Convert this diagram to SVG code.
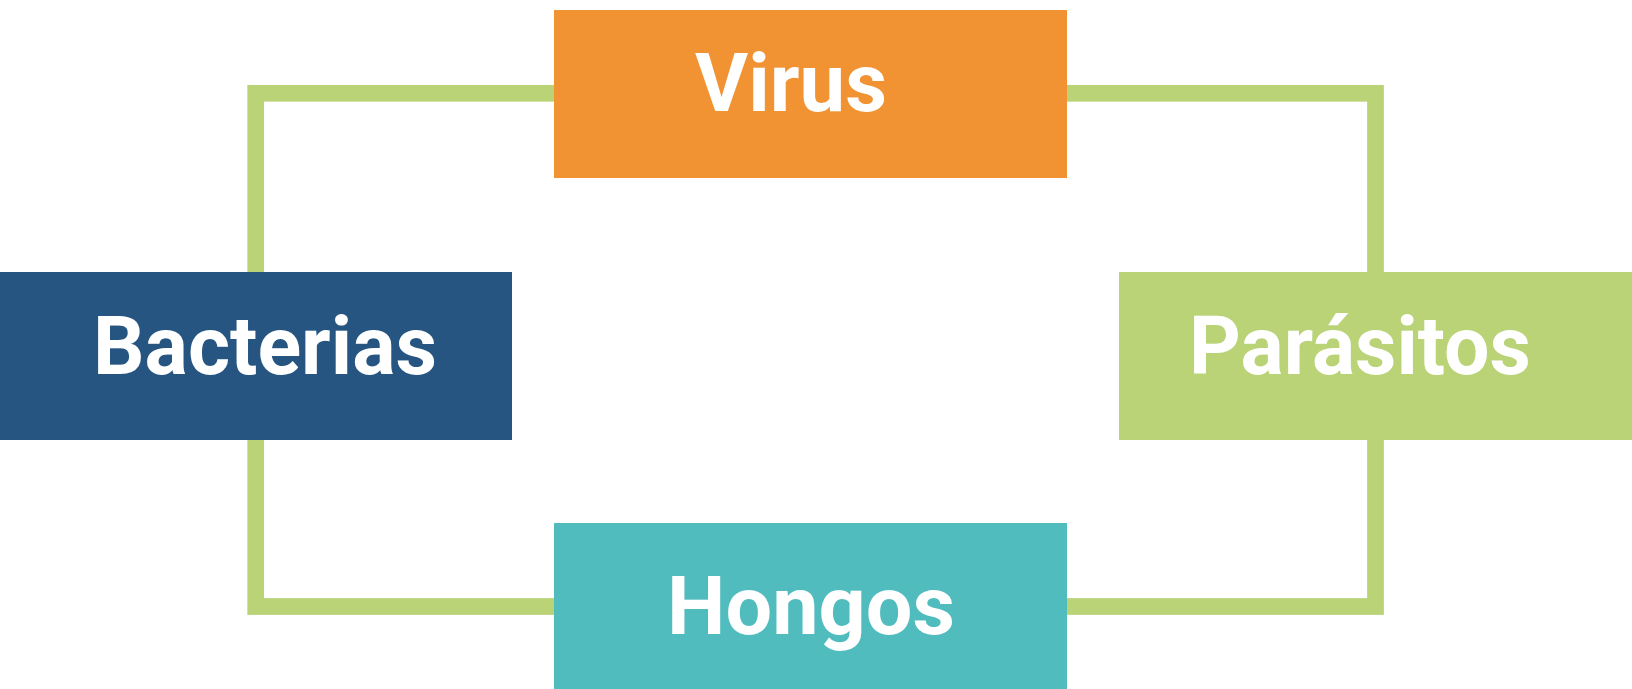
<svg xmlns="http://www.w3.org/2000/svg" width="1632" height="689" viewBox="0 0 1632 689">
<style>
.lbl{font-family:"Roboto","Noto Sans","Liberation Sans",sans-serif;font-weight:700;font-size:81px;fill:#ffffff}
.conn{fill:none;stroke:#B9D376;stroke-width:16.7}
</style>
<rect width="1632" height="689" fill="#ffffff"/>
<g id="connectors">
<rect class="conn" x="255.7" y="93.3" width="1119.8" height="513.2"/>
</g>
<g id="virus">
<rect x="554" y="10" width="513" height="168" fill="#F29333"/>
<text class="lbl" x="695" y="111" textLength="192" lengthAdjust="spacingAndGlyphs">Virus</text>
</g>
<g id="bacterias">
<rect x="0" y="272" width="512" height="168" fill="#255580"/>
<text class="lbl" x="93" y="374" textLength="344" lengthAdjust="spacingAndGlyphs">Bacterias</text>
</g>
<g id="parasitos">
<rect x="1119" y="272" width="513" height="168" fill="#B9D376"/>
<text class="lbl" x="1189" y="374" textLength="342" lengthAdjust="spacingAndGlyphs">Parásitos</text>
</g>
<g id="hongos">
<rect x="554" y="523" width="513" height="166" fill="#50BCBE"/>
<text class="lbl" x="667" y="634" textLength="288" lengthAdjust="spacingAndGlyphs">Hongos</text>
</g>
</svg>
